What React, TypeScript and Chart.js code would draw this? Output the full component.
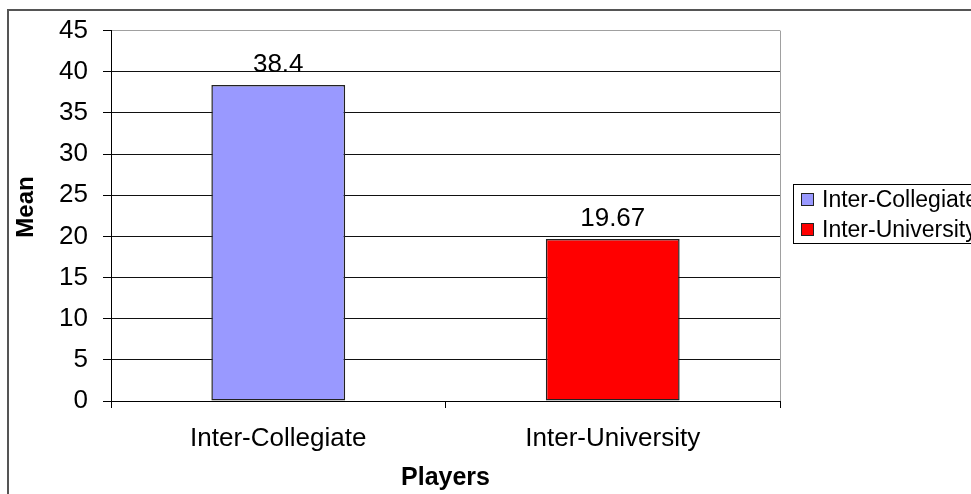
import React, { useEffect, useRef } from "react";
import { Chart, registerables } from "chart.js";

Chart.register(...registerables);

const categories = ["Inter-Collegiate", "Inter-University"];
const meanValues = [38.4, 19.67];
const valueLabels = ["38.4", "19.67"];
const barColors = ["#9999FF", "#FF0000"];
const yTicks = { min: 0, max: 45, step: 5 };
const xTitle = "Players";
const yTitle = "Mean";

const FONT = "'Liberation Sans', Arial, sans-serif";

const overlayPlugin = {
  id: "overlay",
  beforeDraw(chart: any) {
    const ctx = chart.ctx;
    ctx.save();
    ctx.fillStyle = "#fff";
    ctx.fillRect(0, 0, chart.width, chart.height);
    ctx.strokeStyle = "#555";
    ctx.lineWidth = 2;
    ctx.beginPath();
    ctx.moveTo(8, 500);
    ctx.lineTo(8, 10);
    ctx.lineTo(975, 10);
    ctx.stroke();
    ctx.restore();
  },
  afterDraw(chart: any) {
    const ctx = chart.ctx;
    const area = chart.chartArea;
    ctx.save();
    // right border of plot area
    ctx.strokeStyle = "#a0a0a0";
    ctx.lineWidth = 1;
    ctx.beginPath();
    ctx.moveTo(Math.round(area.right) + 0.5, area.top);
    ctx.lineTo(Math.round(area.right) + 0.5, area.bottom);
    ctx.stroke();

    // value labels
    const meta = chart.getDatasetMeta(0);
    ctx.fillStyle = "#000";
    ctx.font = `26px ${FONT}`;
    ctx.textAlign = "center";
    ctx.textBaseline = "alphabetic";
    meta.data.forEach((bar: any, i: number) => {
      ctx.fillText(valueLabels[i], bar.x, bar.y - 13);
    });

    // axis titles
    ctx.font = `bold 25px ${FONT}`;
    ctx.textBaseline = "middle";
    ctx.fillText(xTitle, (area.left + area.right) / 2, 478);
    ctx.font = `bold 24px ${FONT}`;
    ctx.save();
    ctx.translate(26, 207);
    ctx.rotate(-Math.PI / 2);
    ctx.fillText(yTitle, 0, 0);
    ctx.restore();

    // legend
    const lx = 793, ly = 184, lw = 200, lh = 59;
    ctx.strokeStyle = "#000";
    ctx.lineWidth = 1;
    ctx.strokeRect(lx + 0.5, ly + 0.5, lw, lh);
    ctx.font = `23px ${FONT}`;
    ctx.textAlign = "left";
    ctx.textBaseline = "middle";
    categories.forEach((c, i) => {
      const cy = 200 + i * 30;
      ctx.fillStyle = barColors[i];
      ctx.fillRect(801, cy - 7, 13, 13);
      ctx.strokeStyle = "#222";
      ctx.strokeRect(801.5, cy - 6.5, 12, 12);
      ctx.fillStyle = "#000";
      ctx.fillText(c, 822, cy + 1);
    });
    ctx.restore();
  },
};

export default function App() {
  const ref = useRef<HTMLCanvasElement>(null);
  useEffect(() => {
    if (!ref.current) return;
    const chart = new Chart(ref.current, {
      type: "bar",
      data: {
        labels: categories,
        datasets: [
          {
            data: meanValues,
            backgroundColor: barColors,
            borderColor: "#222",
            borderWidth: 1.5,
            borderSkipped: false,
            barPercentage: 0.4,
            categoryPercentage: 1,
          },
        ],
      },
      plugins: [overlayPlugin],
      options: {
        animation: false,
        responsive: false,
        devicePixelRatio: 1,
        layout: { padding: { left: 0, top: 28, right: 191, bottom: 0 } },
        plugins: { legend: { display: false }, tooltip: { enabled: false } },
        scales: {
          x: {
            afterFit: (s: any) => { s.height = 93; },
            grid: {
              offset: true,
              drawOnChartArea: false,
              drawTicks: true,
              tickLength: 7,
              tickColor: "#000",
            },
            border: { display: true, color: "#000" },
            ticks: {
              color: "#000",
              font: { family: FONT, size: 26 },
              padding: 15,
            },
          },
          y: {
            min: yTicks.min,
            max: yTicks.max,
            afterFit: (s: any) => { s.width = 111; },
            grid: {
              color: (c: any) => (c.tick && c.tick.value === yTicks.max ? "#a0a0a0" : "#111"),
              tickColor: "#000",
              tickLength: 8,
            },
            border: { display: true, color: "#000" },
            ticks: {
              stepSize: yTicks.step,
              color: "#000",
              font: { family: FONT, size: 26 },
              padding: 15,
            },
          },
        },
      },
    });
    return () => chart.destroy();
  }, []);
  return (
    <div style={{ position: "absolute", left: 0, top: 0, width: 971, height: 494 }}>
      <canvas ref={ref} width={971} height={494} />
    </div>
  );
}
